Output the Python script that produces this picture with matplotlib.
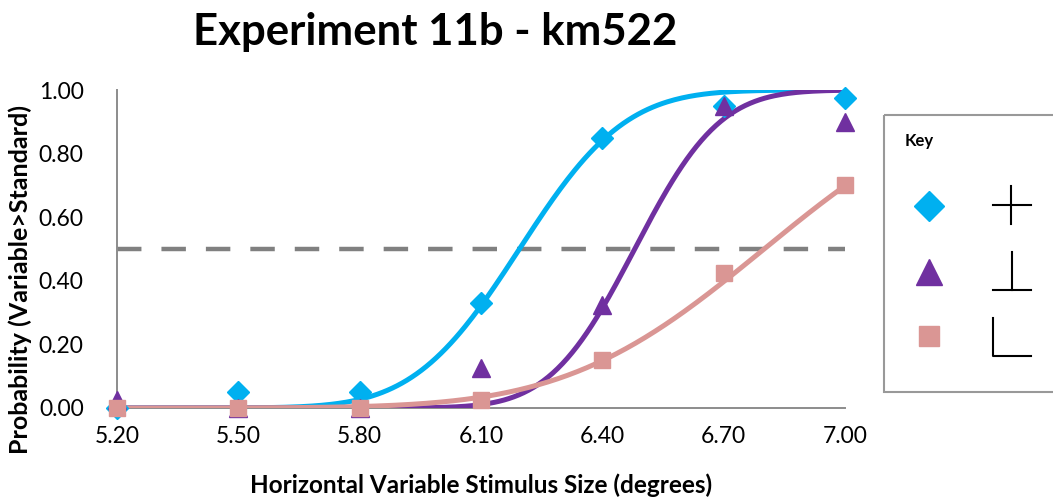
"""Psychometric curves for experiment 11b (observer km522)."""

import math

import matplotlib

matplotlib.use("Agg")
import matplotlib.pyplot as plt  # noqa: E402
import numpy as np  # noqa: E402

plt.rcParams["font.family"] = ["Lato", "DejaVu Sans"]

# stimulus sizes (degrees) and observed proportions
sizes = [5.20, 5.50, 5.80, 6.10, 6.40, 6.70, 7.00]
cross_p = [0.0, 0.05, 0.05, 0.33, 0.85, 0.95, 0.975]
tee_p = [0.025, 0.0, 0.0, 0.125, 0.325, 0.95, 0.90]
ell_p = [0.0, 0.0, 0.0, 0.025, 0.15, 0.425, 0.70]

# fitted cumulative-normal parameters (mean, sd) per condition
cross_fit = (6.195, 0.205)
tee_fit = (6.48, 0.165)
ell_fit = (6.80, 0.384)

x_ticks = [5.20, 5.50, 5.80, 6.10, 6.40, 6.70, 7.00]
y_ticks = [0.0, 0.2, 0.4, 0.6, 0.8, 1.0]

BLUE = "#00b0f0"
PURPLE = "#7030a0"
PINK = "#da9694"
GRID = "#8c8c8c"


def cum_normal(x, mu, sd):
    return np.array([0.5 * (1 + math.erf((v - mu) / (sd * math.sqrt(2)))) for v in x])


W, H = 1053, 499
fig = plt.figure(figsize=(W / 100, H / 100), dpi=100)
ax = fig.add_axes([117 / W, 1 - 408 / H, (845 - 117) / W, (408 - 90) / H])

xs = np.linspace(sizes[0], sizes[-1], 300)
ax.plot([sizes[0], sizes[-1]], [0.5, 0.5], color="#808080", lw=3.2,
        dashes=(5.5, 4.5), zorder=1)

series = [
    (cross_p, cross_fit, BLUE, "D", 11),
    (tee_p, tee_fit, PURPLE, "^", 13),
    (ell_p, ell_fit, PINK, "s", 12),
]
for i, (p, fit, col, mk, ms) in enumerate(series):
    ax.plot(xs, cum_normal(xs, *fit), color=col, lw=3.6, zorder=2 + i,
            solid_capstyle="round")
    ax.plot(sizes, p, ls="none", marker=mk, ms=ms, color=col, mec=col,
            zorder=5 + i, clip_on=False)

ax.set_xlim(sizes[0], sizes[-1])
ax.set_ylim(0, 1)
ax.set_xticks(x_ticks)
ax.set_xticklabels([f"{v:.2f}" for v in x_ticks])
ax.set_yticks(y_ticks)
ax.set_yticklabels([f"{v:.2f}" for v in y_ticks])
ax.tick_params(length=0, labelsize=16.5)
ax.tick_params(axis="x", pad=13)
ax.tick_params(axis="y", pad=24)
for s in ("top", "right"):
    ax.spines[s].set_visible(False)
for s in ("left", "bottom"):
    ax.spines[s].set_color(GRID)
    ax.spines[s].set_linewidth(1.4)

ax.set_xlabel("Horizontal Variable Stimulus Size (degrees)", fontsize=17.5,
              fontweight="bold", labelpad=19)
fig.text(20 / W, 1 - 280 / H, "Probability (Variable>Standard)", rotation=90,
         ha="center", va="center", fontsize=18, fontweight="bold")
fig.text(435 / W, 1 - 32 / H, "Experiment 11b - km522", ha="center", va="center",
         fontsize=31.5, fontweight="bold")

# key box, drawn in pixel coordinates on an overlay
ov = fig.add_axes([0, 0, 1, 1], zorder=10)
ov.set_xlim(0, W)
ov.set_ylim(H, 0)
ov.axis("off")
ov.add_patch(plt.Rectangle((884, 115), 200, 277, fill=False, edgecolor="#999999",
                           lw=1.5, clip_on=False))
ov.text(905, 141, "Key", fontsize=12, fontweight="bold", va="center")
ov.plot([929], [206], marker="D", ms=15, color=BLUE, ls="none")
ov.plot([929], [272], marker="^", ms=19, color=PURPLE, ls="none")
ov.plot([929], [336], marker="s", ms=14, color=PINK, ls="none")
k = {"color": "black", "lw": 1.5}
ov.plot([993, 1031], [205, 205], **k)
ov.plot([1011, 1011], [186, 224], **k)
ov.plot([993, 1031], [290, 290], **k)
ov.plot([1012, 1012], [252, 290], **k)
ov.plot([993, 993, 1031], [318, 356, 356], **k)

fig.savefig("out.png", dpi=100)
